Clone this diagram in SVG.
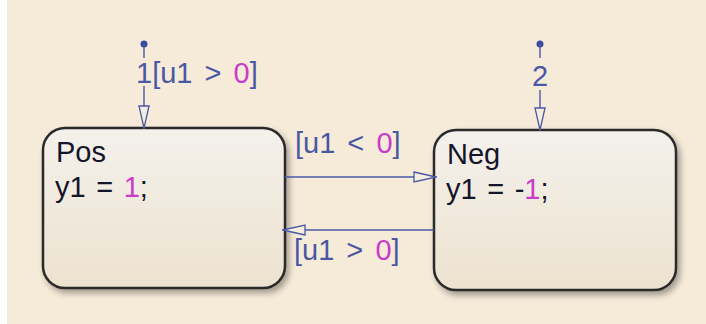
<svg xmlns="http://www.w3.org/2000/svg" width="706" height="324" viewBox="0 0 706 324">
<defs>
<linearGradient id="fillg" x1="0" y1="0" x2="0" y2="1">
<stop offset="0" stop-color="#f4f1ec"/>
<stop offset="1" stop-color="#ece2cf"/>
</linearGradient>
<filter id="sh" x="-10%" y="-10%" width="130%" height="130%">
<feGaussianBlur in="SourceAlpha" stdDeviation="3"/>
<feOffset dx="3" dy="4" result="b"/>
<feComponentTransfer><feFuncA type="linear" slope="0.35"/></feComponentTransfer>
<feMerge><feMergeNode/><feMergeNode in="SourceGraphic"/></feMerge>
</filter>
<marker id="arr" viewBox="0 0 24 12" refX="24" refY="6" markerWidth="24" markerHeight="12" markerUnits="userSpaceOnUse" orient="auto">
<path d="M1,1 L23,6 L1,11 Z" fill="#f5eedf" stroke="#4a58a6" stroke-width="1.3"/>
</marker>
</defs>
<style>
.st{fill:url(#fillg);stroke:#2b2b2b;stroke-width:2.5;filter:url(#sh)}
.sn{font-family:"Liberation Sans",Arial,sans-serif;font-size:29px;word-spacing:2.5px;fill:#15152a}
.tl{font-family:"Liberation Sans",Arial,sans-serif;font-size:29px;word-spacing:4px;fill:#4a58a4}
.num{fill:#c93bc8}
.tr{stroke:#4a58a6;stroke-width:1.4;fill:none}
.dot{fill:#3c4aa0}
</style>
<rect x="7" y="0" width="699" height="324" fill="#f6ebd9"/>
<rect x="0" y="0" width="7" height="324" fill="#ffffff"/>
<g id="Pos">
<rect class="st" x="43" y="128" width="242" height="160" rx="22" ry="22"/>
<text class="sn" x="56" y="162">Pos</text>
<text class="sn" x="55" y="197">y1 = <tspan class="num">1</tspan>;</text>
</g>
<g id="Neg">
<rect class="st" x="434" y="130" width="242" height="160" rx="22" ry="22"/>
<text class="sn" x="447" y="164">Neg</text>
<text class="sn" x="446" y="199">y1 = -<tspan class="num">1</tspan>;</text>
</g>
<g id="connectors">
<circle class="dot" cx="144" cy="44" r="3.5"/>
<line class="tr" x1="144" y1="44" x2="144" y2="58"/>
<line class="tr" x1="144" y1="86" x2="144" y2="129" marker-end="url(#arr)"/>
<text class="tl" x="136" y="83">1[u1 &gt; <tspan class="num">0</tspan>]</text>
<circle class="dot" cx="540" cy="44" r="3.5"/>
<line class="tr" x1="540" y1="44" x2="540" y2="58"/>
<line class="tr" x1="540" y1="90" x2="540" y2="131" marker-end="url(#arr)"/>
<text class="tl" x="532" y="86">2</text>
<line class="tr" x1="285" y1="177" x2="437" y2="177" marker-end="url(#arr)"/>
<text class="tl" x="295" y="153">[u1 &lt; <tspan class="num">0</tspan>]</text>
<line class="tr" x1="434" y1="230" x2="282" y2="230" marker-end="url(#arr)"/>
<text class="tl" x="294" y="260">[u1 &gt; <tspan class="num">0</tspan>]</text>
</g>
</svg>
